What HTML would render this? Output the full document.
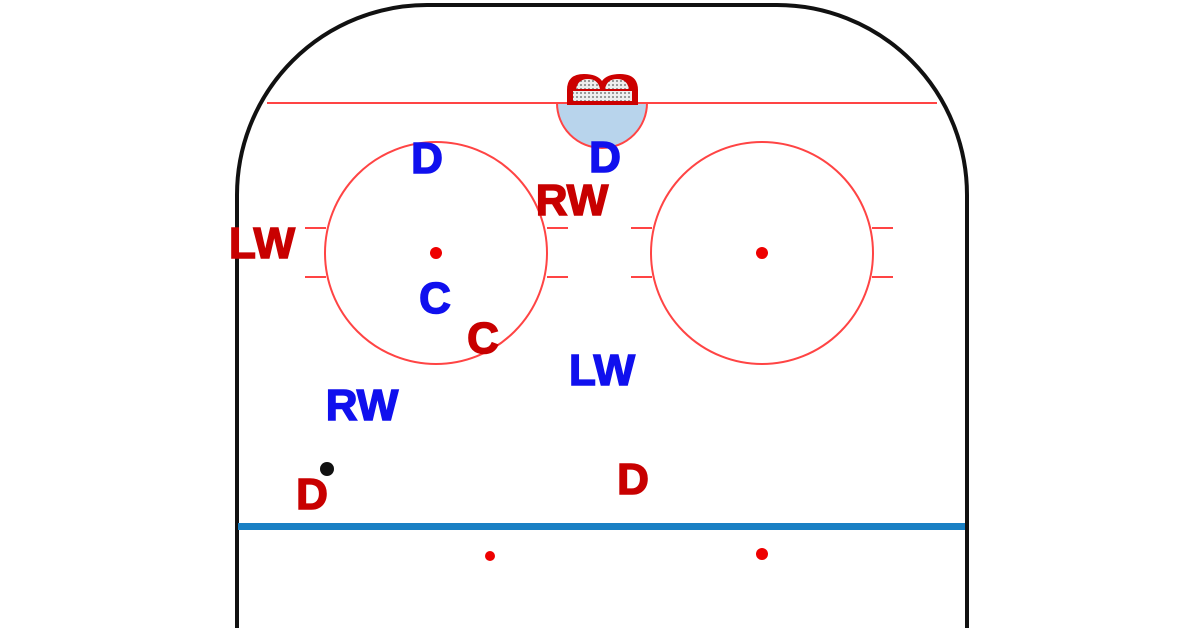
<!DOCTYPE html>
<html><head><meta charset="utf-8"><style>
html,body{margin:0;padding:0;background:#fff;width:1200px;height:628px;overflow:hidden}
text{font-family:"Liberation Sans",Arial,sans-serif;font-weight:bold;font-size:44px;stroke-width:1.5px}
</style></head><body>
<svg width="1200" height="628" viewBox="0 0 1200 628" xmlns="http://www.w3.org/2000/svg">
<defs><pattern id="net" width="4" height="4" patternUnits="userSpaceOnUse"><rect width="4" height="4" fill="#eee"/><rect width="2" height="2" fill="#999"/></pattern></defs>
<path d="M237 628 V195 A190 190 0 0 1 427 5 H777 A190 190 0 0 1 967 195 V628" fill="none" stroke="#111" stroke-width="4"/>
<line x1="267" y1="103" x2="937" y2="103" stroke="#f44" stroke-width="2"/>
<path d="M557 103 A45 45 0 0 0 647 103 Z" fill="#b8d4ec" stroke="#f44" stroke-width="2"/>
<path d="M567 105 V90 Q567 74 584 74 Q597 74 602 81 Q607 74 620 74 Q638 74 638 90 V105 Z" fill="#c00"/>
<rect x="573" y="91" width="59" height="10" fill="url(#net)"/>
<path d="M576 89 Q578 79 588 79 Q598 79 600 89 Z M605 89 Q607 79 617 79 Q627 79 629 89 Z" fill="url(#net)"/>
<g fill="none" stroke="#f44" stroke-width="2">
<circle cx="436" cy="253" r="111"/><circle cx="762" cy="253" r="111"/>
<path d="M305 228 H326 M305 277 H326 M547 228 H568 M547 277 H568 M631 228 H652 M631 277 H652 M872 228 H893 M872 277 H893"/>
</g>
<g fill="#e00"><circle cx="436" cy="253" r="6"/><circle cx="762" cy="253" r="6"/><circle cx="490" cy="556" r="5"/><circle cx="762" cy="554" r="6"/></g>
<rect x="238" y="523" width="727" height="7" fill="#1a80c4"/>
<circle cx="327" cy="469" r="7" fill="#111"/>
<g fill="#1010ee" stroke="#1010ee" text-anchor="middle">
<text x="427" y="173">D</text><text x="605" y="172">D</text>
<text x="435" y="313">C</text><text x="602" y="385">LW</text><text x="362" y="420">RW</text>
</g>
<g fill="#c80000" stroke="#c80000" text-anchor="middle">
<text x="572" y="215">RW</text><text x="262" y="258">LW</text><text x="483" y="353">C</text>
<text x="312" y="509">D</text><text x="633" y="494">D</text>
</g>
</svg>
</body></html>
